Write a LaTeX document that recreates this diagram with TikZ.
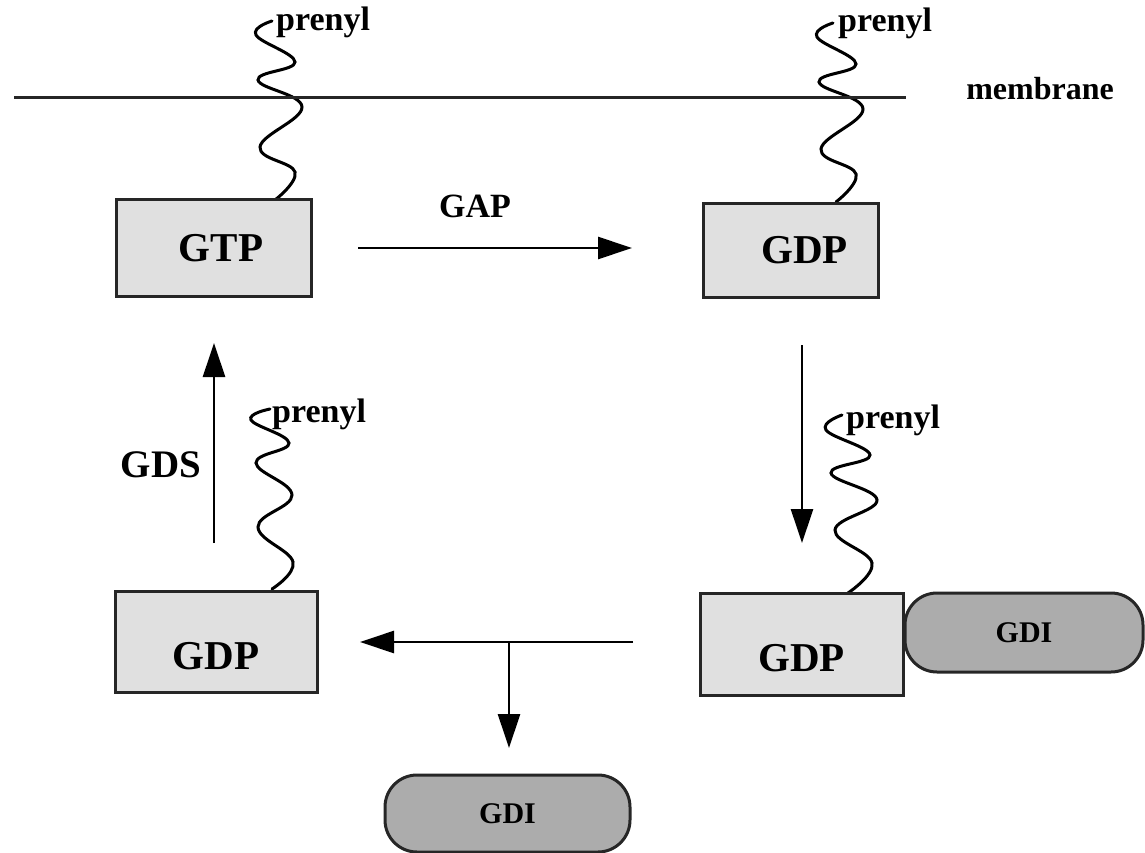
\documentclass[tikz,border=0pt]{standalone}
\usepackage{fontspec}
\setmainfont{Liberation Serif}
\usetikzlibrary{arrows.meta}
\definecolor{boxfill}{RGB}{224,224,224}
\definecolor{pillfill}{RGB}{172,172,172}
\begin{document}
\begin{tikzpicture}[x=1pt,y=-1pt,
  protein/.style={draw=black!85, line width=3pt, fill=boxfill,
    font=\fontsize{41}{44}\selectfont\bfseries, inner sep=0pt},
  gdibox/.style={draw=black!85, line width=3pt, fill=pillfill,
    rounded corners=32pt, font=\fontsize{30}{34}\selectfont\bfseries, inner sep=0pt},
  reaction/.style={line width=2.6pt, -{Triangle[length=34pt,width=22pt]}},
  lipid/.style={line width=3pt, line cap=round},
  lbl/.style={font=\fontsize{36}{40}\selectfont\bfseries},
  tag/.style={font=\fontsize{34}{36}\selectfont\bfseries, anchor=base west, inner sep=0pt},
]
\useasboundingbox (0,0) rectangle (1145,853);

% prenyl anchors (wavy lipid tails)
\draw[lipid] plot[smooth, tension=0.7] coordinates
  {(275,200) (295,172) (260,147) (302,107) (258,80) (295,62) (256,35) (272,21)};
\draw[lipid] plot[smooth, tension=0.7] coordinates
  {(836,202) (856,174) (821,149) (863,109) (819,82) (856,64) (817,37) (833,23)};
\draw[lipid] plot[smooth, tension=0.7] coordinates
  {(272,589) (293,562) (258,527) (292,495) (256,463) (289,443) (251,420) (270,409)};
\draw[lipid] plot[smooth, tension=0.7] coordinates
  {(848,593) (872,563) (835,530) (877,500) (831,473) (870,455) (826,430) (842,415)};

\node[tag] (p1) at (276,31) {prenyl};
\node[tag] (p2) at (838,32) {prenyl};
\node[tag] (p3) at (272,422) {prenyl};
\node[tag] (p4) at (846,428) {prenyl};

% membrane
\coordinate (m1) at (14,98);
\coordinate (m2) at (906,98);
\draw[line width=3pt, draw=black!85] (m1) -- (m2);
\node[font=\fontsize{32}{36}\selectfont\bfseries] (mem) at (1040,89) {membrane};

% G-protein states
\node[protein, minimum width=195pt, minimum height=96pt] (gtp) at (213.5,248) {\hspace*{15pt}GTP};
\node[protein, minimum width=175pt, minimum height=94pt] (gdpa) at (790.5,250) {\hspace*{28pt}GDP};
\node[protein, minimum width=203pt, minimum height=102pt, text height=55pt, text depth=0pt] (gdpb) at (801.5,644) {GDP};
\node[protein, minimum width=202pt, minimum height=101pt, text height=55pt, text depth=0pt] (gdpc) at (216,641.5) {GDP};

% GDI complexes
\node[gdibox, minimum width=238pt, minimum height=79pt] (gdia) at (1024,632.5) {GDI};
\node[gdibox, minimum width=245pt, minimum height=77pt] (gdib) at (507.5,813.5) {GDI};

% reactions
\coordinate (a1) at (358,248);
\coordinate (a2) at (632,248);
\draw[reaction] (a1) -- (a2);
\node[lbl, font=\fontsize{34}{38}\selectfont\bfseries] (gap) at (475,206) {GAP};

\coordinate (b1) at (802,345);
\coordinate (b2) at (802,543);
\draw[reaction] (b1) -- (b2);

\coordinate (c1) at (633,642);
\coordinate (c2) at (360,642);
\coordinate (c3) at (509,642);
\coordinate (c4) at (509,748);
\draw[reaction] (c1) -- (c2);
\draw[reaction] (c3) -- (c4);

\coordinate (d1) at (214,543);
\coordinate (d2) at (214,343);
\draw[reaction] (d1) -- (d2);
\node[lbl, font=\fontsize{39}{42}\selectfont\bfseries] (gds) at (161,465) {GDS};

\end{tikzpicture}
\end{document}
